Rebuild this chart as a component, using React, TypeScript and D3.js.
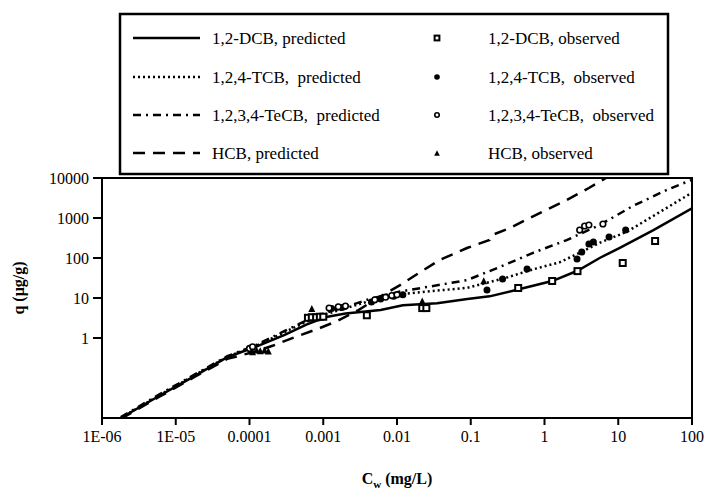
import React from "react";
import * as d3 from "d3";

// ---------- data ----------
const xTickValues = [1e-6, 1e-5, 1e-4, 1e-3, 0.01, 0.1, 1, 10, 100];
const xTickLabels = ["1E-06", "1E-05", "0.0001", "0.001", "0.01", "0.1", "1", "10", "100"];
const yTickValues = [1, 10, 100, 1000, 10000];
const yTickLabels = ["1", "10", "100", "1000", "10000"];

// predicted isotherms [Cw (mg/L), q (ug/g)]
const dcbPredicted: [number, number][] = [
  [1.8e-6, 0.01], [6e-6, 0.036], [1.7e-5, 0.105], [5e-5, 0.33], [1.26e-4, 0.62],
  [3e-4, 1.2], [6e-4, 2.2], [1.1e-3, 3.35], [2e-3, 4.1], [6e-3, 5.0], [0.012, 6.6],
  [0.035, 7.4], [0.09, 9.5], [0.18, 11], [0.45, 16.5], [1.27, 26.5], [2.8, 48],
  [5.6, 100], [10.5, 180], [30, 500], [100, 1750],
];
const tcbPredicted: [number, number][] = [
  [1.8e-6, 0.01], [6e-6, 0.037], [1.7e-5, 0.11], [5e-5, 0.34], [1.26e-4, 0.65],
  [3e-4, 1.4], [6e-4, 2.6], [1.1e-3, 4.0], [2e-3, 5.5], [4.3e-3, 8.5], [0.011, 12.5],
  [0.031, 15], [0.09, 18], [0.165, 24], [0.3, 32], [0.7, 52], [1.6, 78], [3, 135],
  [5.6, 240], [13, 450], [34, 1300], [100, 4300],
];
const tecbPredicted: [number, number][] = [
  [1.8e-6, 0.0105], [6e-6, 0.039], [1.7e-5, 0.115], [5e-5, 0.35], [1.26e-4, 0.68],
  [3e-4, 1.5], [6e-4, 2.8], [1.1e-3, 4.3], [2e-3, 6.0], [4.3e-3, 9.5], [0.011, 14.5],
  [0.031, 20], [0.089, 28], [0.25, 60], [0.7, 135], [2.0, 280], [5.6, 668],
  [15.8, 2000], [45, 5000], [100, 9000],
];
const hcbPredicted: [number, number][] = [
  [1.8e-6, 0.0095], [6e-6, 0.034], [1.7e-5, 0.1], [5e-5, 0.3], [1.26e-4, 0.47],
  [2.1e-4, 0.65], [4.4e-4, 1.1], [8.5e-4, 1.7], [1.5e-3, 2.6], [3e-3, 5], [6e-3, 11],
  [0.011, 21], [0.0205, 44], [0.038, 89], [0.089, 178], [0.18, 282], [0.196, 376],
  [0.34, 562], [0.86, 1330], [2.0, 2820], [4.0, 5620], [6.8, 10000], [12, 17000],
];

// observed
const dcbObserved: [number, number][] = [
  [0.00062, 3.2], [0.0007, 3.3], [0.0008, 3.3], [0.0009, 3.4], [0.001, 3.4],
  [0.0039, 3.7], [0.022, 5.6], [0.025, 5.6], [0.44, 17.8], [1.27, 26.6],
  [2.8, 47], [11.5, 75], [31.6, 266],
];
const tcbObserved: [number, number][] = [
  [0.0013, 5.5], [0.0018, 5.8], [0.0045, 8], [0.006, 9.5], [0.009, 11], [0.012, 12],
  [0.166, 15.8], [0.27, 30], [0.58, 53], [2.76, 94], [3.2, 141], [4.0, 224],
  [4.6, 251], [7.5, 335], [12.6, 500],
];
const tecbObserved: [number, number][] = [
  [1.0e-4, 0.55], [1.1e-4, 0.6], [0.0012, 5.6], [0.0016, 6.0], [0.002, 6.3],
  [0.005, 9], [0.007, 10.5], [0.0085, 11.5], [0.01, 12],
  [3.0, 500], [3.5, 631], [4.0, 668], [6.2, 708],
];
const hcbObserved: [number, number][] = [
  [1.1e-4, 0.45], [1.25e-4, 0.5], [1.4e-4, 0.48], [1.6e-4, 0.5], [1.8e-4, 0.47],
  [0.0007, 5.5], [0.022, 8.4], [0.15, 27],
];

const predictedLabels = ["1,2-DCB, predicted", "1,2,4-TCB,  predicted", "1,2,3,4-TeCB,  predicted", "HCB, predicted"];
const observedLabels = ["1,2-DCB, observed", "1,2,4-TCB,  observed", "1,2,3,4-TeCB,  observed", "HCB, observed"];
const dashes = [null, "2,3", "8,5,2,5", "12,8"];
const markerKinds = ["square", "dot", "ring", "triangle"];

// ---------- layout ----------
const W = 706, H = 504;
const PL = 102, PR = 692, PT = 178, PB = 418;
const FONT = "'Liberation Serif', 'Times New Roman', serif";

function Marker({ kind, x, y, s = 1 }: { kind: string; x: number; y: number; s?: number }) {
  if (kind === "square")
    return <rect x={x - 3 * s} y={y - 3 * s} width={6 * s} height={6 * s} fill="#fff" stroke="#000" strokeWidth={2} />;
  if (kind === "dot") return <circle cx={x} cy={y} r={3.5 * s} fill="#000" />;
  if (kind === "ring") return <circle cx={x} cy={y} r={2.8 * s} fill="#fff" stroke="#000" strokeWidth={1.6} />;
  const h = 7 * s;
  return <path d={`M${x},${y - h / 2}L${x + h / 2},${y + h / 2}L${x - h / 2},${y + h / 2}Z`} fill="#000" />;
}

export default function App() {
  const x = d3.scaleLog().domain([1e-6, 100]).range([PL, PR]);
  const y = d3.scaleLog().domain([0.01, 10000]).range([PB, PT]);
  const line = d3.line<[number, number]>().x((d) => x(d[0])).y((d) => y(d[1]));
  const predicted = [dcbPredicted, tcbPredicted, tecbPredicted, hcbPredicted];
  const observed = [dcbObserved, tcbObserved, tecbObserved, hcbObserved];

  const legendRows = [38, 77, 115, 153];

  return (
    <svg width={W} height={H} style={{ position: "absolute", left: 0, top: 0, background: "#fff" }} fontFamily={FONT}>
      <defs>
        <clipPath id="plotclip">
          <rect x={PL} y={PT} width={PR - PL} height={PB - PT} />
        </clipPath>
      </defs>

      {/* legend */}
      <rect x={120} y={14} width={548} height={160} fill="#fff" stroke="#000" strokeWidth={2.5} />
      {legendRows.map((ly, i) => (
        <g key={i}>
          <line x1={133} x2={200} y1={ly} y2={ly} stroke="#000" strokeWidth={2.5}
            strokeDasharray={dashes[i] ?? undefined} />
          <text x={212} y={ly + 6} fontSize={17} style={{ whiteSpace: "pre" }}>{predictedLabels[i]}</text>
          <Marker kind={markerKinds[i]} x={437} y={ly} s={0.8} />
          <text x={488} y={ly + 6} fontSize={17} style={{ whiteSpace: "pre" }}>{observedLabels[i]}</text>
        </g>
      ))}

      {/* frame */}
      <rect x={PL} y={PT} width={PR - PL} height={PB - PT} fill="none" stroke="#000" strokeWidth={2} />

      {/* y axis ticks */}
      {yTickValues.map((v, i) => (
        <g key={v}>
          <line x1={PL - 9} x2={PL} y1={y(v)} y2={y(v)} stroke="#000" strokeWidth={2} />
          <text x={PL - 13} y={y(v) + 5.5} fontSize={16} textAnchor="end">{yTickLabels[i]}</text>
        </g>
      ))}
      {/* x axis ticks */}
      {xTickValues.map((v, i) => (
        <g key={v}>
          <line x1={x(v)} x2={x(v)} y1={PB} y2={PB + 7} stroke="#000" strokeWidth={2} />
          <text x={x(v)} y={PB + 24} fontSize={16} textAnchor="middle">{xTickLabels[i]}</text>
        </g>
      ))}

      {/* predicted lines */}
      <g clipPath="url(#plotclip)">
        {predicted.map((d, i) => (
          <path key={i} d={line(d) ?? ""} fill="none" stroke="#000" strokeWidth={2.5}
            strokeDasharray={dashes[i] ?? undefined} />
        ))}
      </g>

      {/* observed markers */}
      {observed.map((pts, i) => (
        <g key={i}>
          {pts.map((p, j) => (
            <Marker key={j} kind={markerKinds[i]} x={x(p[0])} y={y(p[1])} />
          ))}
        </g>
      ))}

      {/* axis titles */}
      <text x={(PL + PR) / 2} y={484} fontSize={16} fontWeight="bold" textAnchor="middle">
        C<tspan fontSize={11} dy={4}>w</tspan><tspan dy={-4}> (mg/L)</tspan>
      </text>
      <text transform={`translate(24,${(PT + PB) / 2 - 10}) rotate(-90)`} fontSize={16} fontWeight="bold" textAnchor="middle">
        q (μg/g)
      </text>
    </svg>
  );
}
